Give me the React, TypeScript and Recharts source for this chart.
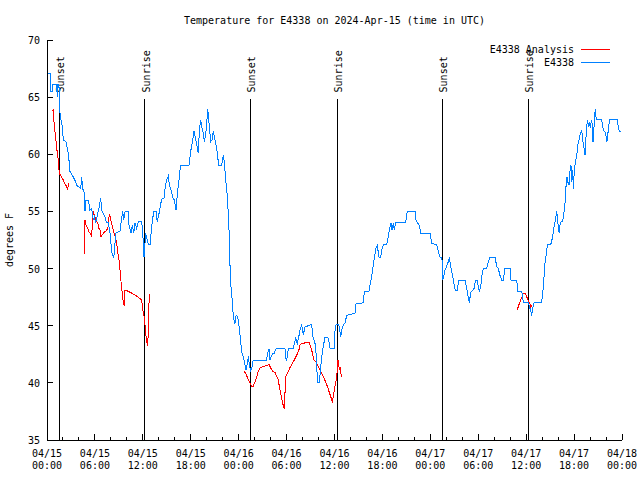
import React from 'react';
import { LineChart, Line, XAxis, YAxis, ReferenceLine, Legend } from 'recharts';

const FONT = '"DejaVu Sans Mono", monospace';

// E4338 observed temperature (hours since 04/15 00:00 UTC, degrees F)
const e4338Hours = [
  0.16, 0.46, 0.5, 0.63, 0.67, 1.21, 1.29, 1.33, 1.5, 1.54, 1.63, 1.75, 1.92, 2.04, 2.38, 2.46, 2.59, 2.75, 2.88, 3.3,
  3.51, 3.71, 4.22, 4.34, 4.47, 4.67, 4.76, 4.84, 5.18, 5.38, 5.59, 5.8, 5.93, 6.09, 6.34, 6.55, 6.72, 6.85, 7.05, 7.26,
  7.47, 7.68, 7.89, 8.1, 8.3, 8.43, 8.6, 9.14, 9.35, 9.48, 9.6, 9.77, 10.18, 10.27, 10.52, 10.68, 10.86, 11.02, 11.23, 11.43,
  11.86, 11.98, 12.15, 12.27, 12.36, 12.48, 12.69, 12.9, 13.11, 13.23, 13.4, 13.65, 13.81, 14.02, 14.24, 14.44, 14.65, 14.81, 15.06, 15.19,
  15.31, 15.53, 15.74, 15.94, 16.15, 16.32, 16.53, 16.65, 16.74, 17.78, 17.91, 18.03, 18.2, 18.41, 18.53, 18.74, 18.95, 19.07, 19.24, 19.37,
  19.57, 19.7, 19.87, 20.0, 20.12, 20.29, 20.5, 20.66, 20.82, 21.04, 21.25, 21.37, 21.5, 21.87, 22.08, 22.2, 22.38, 22.58, 22.7, 22.83,
  22.92, 23.04, 23.17, 23.25, 23.42, 23.54, 23.63, 23.75, 23.96, 24.17, 24.38, 24.58, 24.79, 24.92, 25.08, 25.21, 25.33, 25.5, 25.67, 25.83,
  27.5, 27.63, 27.8, 27.92, 28.26, 28.46, 28.68, 29.8, 29.89, 30.01, 30.22, 30.84, 30.97, 31.14, 31.34, 31.52, 31.68, 31.89, 32.09, 32.31,
  33.14, 33.27, 33.35, 33.56, 33.77, 33.85, 34.1, 34.27, 34.4, 34.6, 34.81, 35.15, 35.31, 35.44, 35.98, 36.06, 36.19, 36.48, 36.61, 36.78,
  36.9, 37.11, 37.32, 37.53, 38.57, 38.69, 39.61, 39.73, 40.32, 40.45, 40.66, 40.78, 40.95, 41.07, 41.2, 41.36, 41.57, 41.79, 41.91, 42.11,
  42.54, 42.74, 42.87, 43.08, 43.2, 43.37, 43.49, 43.66, 44.83, 44.95, 45.12, 46.08, 46.21, 46.37, 46.62, 46.8, 47.96, 48.17, 48.8, 49.0,
  49.21, 49.42, 49.5, 49.55, 49.71, 49.84, 50.05, 50.25, 50.38, 50.55, 50.8, 50.96, 51.13, 51.38, 51.55, 52.34, 52.55, 52.68, 52.88, 53.05,
  53.31, 53.47, 53.68, 53.88, 54.01, 54.13, 54.31, 54.43, 54.64, 55.06, 55.26, 55.47, 56.1, 56.31, 56.51, 56.72, 56.94, 57.14, 57.35, 57.98,
  58.1, 58.82, 58.94, 59.44, 59.57, 59.63, 60.27, 60.4, 60.57, 60.69, 60.82, 60.98, 61.94, 62.15, 62.36, 62.57, 62.65, 63.07, 63.2, 63.4,
  63.52, 63.7, 63.82, 63.95, 64.03, 64.15, 64.24, 64.36, 64.57, 64.7, 64.86, 64.99, 65.11, 65.2, 65.36, 65.49, 65.61, 65.7, 65.82, 65.91,
  66.03, 66.16, 66.33, 66.45, 66.62, 66.78, 66.96, 67.08, 67.21, 67.29, 67.37, 67.5, 67.62, 67.71, 67.78, 67.91, 68.04, 68.16, 68.29, 68.37,
  68.46, 68.58, 68.66, 68.75, 68.87, 69.37, 69.54, 69.66, 69.79, 69.95, 70.12, 70.24, 70.37, 70.5, 71.41, 71.54, 71.66, 71.87,
];
const e4338Temps = [
  67.1, 67.1, 65.5, 65.5, 66.1, 66.1, 65.0, 66.1, 66.1, 64.0, 63.6, 63.0, 62.4, 61.25, 61.1, 60.8, 60.4, 59.5, 58.5, 58.0,
  57.7, 57.3, 57.0, 58.0, 57.0, 56.6, 55.0, 56.0, 56.0, 55.1, 55.25, 54.25, 54.5, 54.0, 54.8, 55.4, 56.2, 55.1, 54.8, 54.5,
  54.0, 54.0, 53.1, 51.5, 51.0, 51.3, 53.1, 53.3, 54.4, 55.0, 54.25, 55.0, 55.0, 53.8, 53.1, 53.8, 53.1, 54.0, 53.5, 54.1,
  54.1, 53.25, 51.0, 52.2, 53.1, 52.7, 52.1, 52.1, 53.7, 54.4, 55.0, 55.0, 54.1, 54.8, 55.7, 56.15, 56.15, 57.2, 57.9, 58.1,
  57.35, 56.9, 56.2, 56.0, 55.1, 56.55, 57.75, 58.6, 59.05, 59.05, 59.8, 60.4, 61.1, 62.0, 61.6, 60.85, 60.1, 62.0, 63.0, 62.4,
  61.85, 61.1, 61.7, 62.7, 64.0, 62.7, 61.1, 61.25, 62.0, 61.25, 60.5, 59.8, 59.05, 59.05, 59.9, 59.3, 57.75, 56.3, 54.8, 52.8,
  50.2, 48.4, 47.4, 46.4, 45.5, 45.2, 45.8, 45.9, 45.5, 44.2, 42.7, 42.3, 41.6, 41.1, 41.7, 42.3, 41.6, 41.0, 41.4, 42.0,
  42.0, 42.6, 43.0, 42.0, 42.6, 42.6, 43.0, 43.0, 42.1, 42.0, 43.0, 43.0, 43.45, 43.9, 43.45, 44.0, 44.6, 45.1, 44.2, 44.9,
  45.1, 44.2, 43.9, 43.45, 42.0, 40.0, 40.0, 41.4, 42.3, 43.2, 44.0, 44.0, 43.6, 43.0, 43.0, 44.5, 45.1, 45.1, 44.9, 44.0,
  44.6, 45.1, 45.25, 45.9, 46.1, 46.9, 47.0, 48.0, 48.0, 48.6, 49.3, 49.9, 50.75, 51.3, 51.8, 52.0, 51.0, 51.0, 51.6, 52.1,
  52.1, 52.8, 53.4, 54.0, 53.4, 54.0, 53.4, 54.0, 54.0, 54.25, 55.0, 55.0, 54.25, 54.0, 53.8, 53.1, 53.1, 52.2, 52.1, 51.5,
  51.0, 51.0, 50.5, 49.0, 49.4, 49.9, 50.2, 50.6, 51.0, 50.2, 49.3, 48.7, 48.1, 48.1, 49.0, 49.0, 48.3, 47.7, 47.0, 47.9,
  48.1, 48.25, 49.0, 49.0, 48.4, 48.0, 48.4, 49.3, 50.0, 50.0, 50.6, 51.0, 51.0, 50.2, 50.0, 49.4, 49.0, 49.0, 50.0, 50.0,
  49.0, 49.0, 48.0, 48.0, 47.6, 47.0, 47.0, 46.7, 46.3, 45.9, 46.5, 47.0, 47.0, 48.4, 50.5, 51.5, 52.1, 52.1, 52.4, 53.2,
  53.8, 54.4, 55.0, 54.4, 53.4, 53.1, 53.8, 54.1, 54.1, 54.7, 55.7, 57.2, 58.0, 57.6, 57.3, 58.5, 59.1, 57.6, 58.6, 57.0,
  58.6, 59.35, 59.8, 60.8, 61.25, 61.8, 62.1, 61.25, 60.7, 60.4, 59.9, 61.6, 62.7, 63.0, 62.4, 62.85, 62.3, 63.0, 62.6, 61.1,
  62.0, 63.4, 64.0, 63.25, 63.05, 63.05, 62.7, 62.1, 62.0, 61.85, 61.1, 61.85, 62.6, 63.05, 63.05, 62.4, 62.0, 62.0,
];

// E4338 analysis (null = gap)
const analysisHours = [
  0.66, 0.79, 0.91, 1.09, 1.21, 1.34, 1.42, 1.54, 1.67, 1.84, 2.04, 2.25, 2.46, 2.59, 2.67, 2.79, 3.5,
  4.67, 4.76, 4.84, 5.05, 5.26, 5.43, 5.59, 5.67, 5.8, 5.93, 6.09, 6.34, 6.51, 6.64, 6.76, 6.93, 7.18, 7.47, 7.68,
  7.8, 7.93, 8.1, 8.3, 8.43, 8.6, 8.72, 8.85, 9.02, 9.14, 9.27, 9.43, 9.55, 9.68, 9.77, 9.89, 10.18, 10.6, 11.02,
  11.43, 11.86, 11.98, 12.15, 12.27, 12.36, 12.48, 12.61, 12.73, 12.8, 18.0,
  24.71, 24.92, 25.21, 25.42, 25.63, 25.83, 26.05, 26.26, 26.46, 26.67, 27.09, 27.51, 27.8, 28.01, 28.26, 28.55, 28.76,
  28.96, 29.09, 29.26, 29.39, 29.51, 29.64, 29.72, 29.8, 29.89, 30.09, 30.3, 30.51, 30.77, 30.97, 31.18, 31.39, 31.55,
  31.68, 31.89, 32.09, 32.31, 32.51, 32.84, 33.02, 33.14, 33.27, 33.43, 33.68, 33.9, 34.06, 34.27, 34.48, 34.69, 34.94,
  35.15, 35.31, 35.53, 35.65, 35.73, 35.86, 35.98, 36.15, 36.27, 36.36, 36.44, 36.52, 36.61, 36.69, 36.77, 36.86, 48.0,
  58.89, 59.1, 59.32, 59.48, 59.64, 59.81, 59.98, 60.14, 60.31, 60.48, 60.6, 60.73,
];
const analysisTemps = [
  63.8, 63.9, 62.4, 61.5, 60.5, 60.0, 59.35, 58.3, 58.2, 58.0, 57.75, 57.4, 57.2, 56.9, 57.35, 57.5, null,
  51.3, 54.25, 53.9, 53.6, 53.2, 53.05, 52.8, 53.8, 55.0, 54.7, 54.25, 54.0, 53.5, 53.35, 52.8, 52.95, 53.2, 53.35, 53.7,
  54.8, 54.5, 53.9, 53.35, 53.05, 52.65, 52.2, 51.5, 50.75, 49.9, 48.85, 47.8, 47.1, 46.7, 48.1, 48.1, 48.0, 47.85, 47.7,
  47.5, 47.25, 46.5, 45.8, 45.1, 44.3, 43.7, 43.2, 45.5, 47.8, null,
  41.0, 40.8, 40.25, 40.0, 39.7, 39.7, 40.1, 40.55, 41.0, 41.3, 41.45, 41.5, 41.6, 41.3, 41.0, 40.9, 40.6,
  40.25, 39.7, 39.1, 38.65, 38.2, 37.9, 37.8, 39.1, 40.55, 40.85, 41.15, 41.45, 41.75, 42.0, 42.3, 42.6, 42.9,
  43.3, 43.45, 43.45, 43.5, 43.55, 43.5, 43.1, 42.9, 42.45, 42.0, 41.85, 41.55, 41.3, 41.0, 40.7, 40.4, 40.0,
  39.6, 39.25, 38.8, 38.5, 38.35, 38.8, 39.4, 40.0, 40.55, 41.15, 42.0, 41.55, 41.15, 41.4, 41.0, 40.55, null,
  46.4, 46.85, 47.25, 47.55, 47.8, 47.85, 47.7, 47.4, 47.1, 46.9, 46.6, 46.8,
];

// Sun events (hours since 04/15 00:00 UTC)
const sunEventHours = [1.54, 12.27, 25.46, 36.35, 49.5, 60.27];
const sunEventNames = ['Sunset', 'Sunrise', 'Sunset', 'Sunrise', 'Sunset', 'Sunrise'];
const SUN_LINE_TOP = 64.8;

const xTicks = [0, 2, 4, 6, 8, 10, 12, 14, 16, 18, 20, 22, 24, 26, 28, 30, 32, 34, 36, 38, 40, 42, 44, 46, 48, 50, 52, 54, 56, 58, 60, 62, 64, 66, 68, 70, 72];
const xDateLabels = ['04/15', '04/15', '04/15', '04/15', '04/16', '04/16', '04/16', '04/16', '04/17', '04/17', '04/17', '04/17', '04/18'];
const xTimeLabels = ['00:00', '06:00', '12:00', '18:00', '00:00', '06:00', '12:00', '18:00', '00:00', '06:00', '12:00', '18:00', '00:00'];
const yTicks = [35, 40, 45, 50, 55, 60, 65, 70];
const legendOrder = ['E4338 Analysis', 'E4338'];

const e4338Data = e4338Hours.map((t, i) => ({ t, v: e4338Temps[i] }));
const analysisData = analysisHours.map((t, i) => ({ t, v: analysisTemps[i] }));

const BottomTick = (props: any) => {
  const { x, y, payload } = props;
  const val = payload.value;
  const major = val % 6 === 0;
  const idx = val / 6;
  return (
    <g>
      <line x1={x} x2={x} y1={y} y2={y - (major ? 6 : 3)} stroke="#000" />
      {major && (
        <text x={x} y={y + 17} textAnchor="middle" fontFamily={FONT} fontSize={10} fill="#000">
          {xDateLabels[idx]}
        </text>
      )}
      {major && (
        <text x={x} y={y + 29} textAnchor="middle" fontFamily={FONT} fontSize={10} fill="#000">
          {xTimeLabels[idx]}
        </text>
      )}
    </g>
  );
};

const TopTick = (props: any) => {
  const { x, y, payload } = props;
  const major = payload.value % 6 === 0;
  return <line x1={x} x2={x} y1={y} y2={y + (major ? 6 : 3)} stroke="#000" />;
};

const LeftTick = (props: any) => {
  const { x, y, payload } = props;
  return (
    <g>
      <line x1={x} x2={x + 6} y1={y} y2={y} stroke="#000" />
      <text x={x - 7} y={y + 4} textAnchor="end" fontFamily={FONT} fontSize={10} fill="#000">
        {payload.value}
      </text>
    </g>
  );
};

const RightTick = (props: any) => {
  const { x, y } = props;
  return <line x1={x} x2={x - 6} y1={y} y2={y} stroke="#000" />;
};

const makeSunLabel = (name: string) => (p: any) => {
  const vb = p.viewBox || {};
  const lx = vb.x + 5;
  const ly = vb.y - 7;
  return (
    <text
      x={lx}
      y={ly}
      transform={`rotate(-90 ${lx} ${ly})`}
      textAnchor="start"
      fontFamily={FONT}
      fontSize={10}
      fill="#000"
    >
      {name}
    </text>
  );
};

const renderLegend = (props: any) => {
  const items = [...(props.payload || [])].sort(
    (a: any, b: any) => legendOrder.indexOf(a.value) - legendOrder.indexOf(b.value)
  );
  return (
    <div style={{ fontFamily: FONT, fontSize: 10, color: '#000' }}>
      {items.map((it: any) => (
        <div
          key={it.value}
          style={{ display: 'flex', justifyContent: 'flex-end', alignItems: 'center', height: 13, lineHeight: '13px' }}
        >
          <span style={{ whiteSpace: 'pre' }}>{it.value}</span>
          <svg width={36} height={13} style={{ display: 'block' }}>
            <line x1={7} x2={36} y1={6.5} y2={6.5} stroke={it.color} strokeWidth={1} shapeRendering="crispEdges" />
          </svg>
        </div>
      ))}
    </div>
  );
};

export default function App() {
  return (
    <div
      style={{
        position: 'absolute',
        left: 0,
        top: 0,
        width: 640,
        height: 480,
        background: '#fff',
        shapeRendering: 'crispEdges',
      } as any}
    >
      <LineChart width={640} height={480} margin={{ top: 40, right: 18, bottom: 0, left: 0 }}>
        <XAxis
          xAxisId={0}
          dataKey="t"
          type="number"
          domain={[0, 72]}
          ticks={xTicks}
          interval={0}
          orientation="bottom"
          height={40}
          tickSize={0}
          tickMargin={0}
          tickLine={false}
          axisLine={{ stroke: '#000' }}
          tick={<BottomTick />}
          allowDataOverflow
        />
        <XAxis
          xAxisId="top"
          dataKey="t"
          type="number"
          domain={[0, 72]}
          ticks={xTicks}
          interval={0}
          orientation="top"
          height={0}
          tickSize={0}
          tickMargin={0}
          tickLine={false}
          axisLine={{ stroke: '#000' }}
          tick={<TopTick />}
          allowDataOverflow
        />
        <YAxis
          yAxisId={0}
          type="number"
          domain={[35, 70]}
          ticks={yTicks}
          interval={0}
          orientation="left"
          width={47}
          tickSize={0}
          tickMargin={0}
          tickLine={false}
          axisLine={{ stroke: '#000' }}
          tick={<LeftTick />}
          allowDataOverflow
        />
        <YAxis
          yAxisId="right"
          type="number"
          domain={[35, 70]}
          ticks={yTicks}
          interval={0}
          orientation="right"
          width={0}
          tickSize={0}
          tickMargin={0}
          tickLine={false}
          axisLine={{ stroke: '#000' }}
          tick={<RightTick />}
          allowDataOverflow
        />
        {sunEventHours.map((h, i) => (
          <ReferenceLine
            key={`sun-${i}`}
            segment={[
              { x: h, y: 35 },
              { x: h, y: SUN_LINE_TOP },
            ]}
            stroke="#000"
            strokeWidth={1}
            label={{ content: makeSunLabel(sunEventNames[i]) }}
          />
        ))}
        <Line
          name="E4338 Analysis"
          data={analysisData}
          dataKey="v"
          type="linear"
          stroke="#ff0000"
          strokeWidth={1}
          dot={false}
          activeDot={false}
          connectNulls={false}
          isAnimationActive={false}
        />
        <Line
          name="E4338"
          data={e4338Data}
          dataKey="v"
          type="linear"
          stroke="#0080ff"
          strokeWidth={1}
          dot={false}
          activeDot={false}
          isAnimationActive={false}
        />
        <Legend
          layout="horizontal"
          verticalAlign="middle"
          align="center"
          content={renderLegend}
          wrapperStyle={{ position: 'absolute', left: 440, top: 43, width: 170, height: 26 }}
        />
        <text x={334.5} y={24} textAnchor="middle" fontFamily={FONT} fontSize={10} fill="#000">
          Temperature for E4338 on 2024-Apr-15 (time in UTC)
        </text>
        <text x={13} y={240} transform="rotate(-90 13 240)" textAnchor="middle" fontFamily={FONT} fontSize={10} fill="#000">
          degrees F
        </text>
      </LineChart>
    </div>
  );
}
